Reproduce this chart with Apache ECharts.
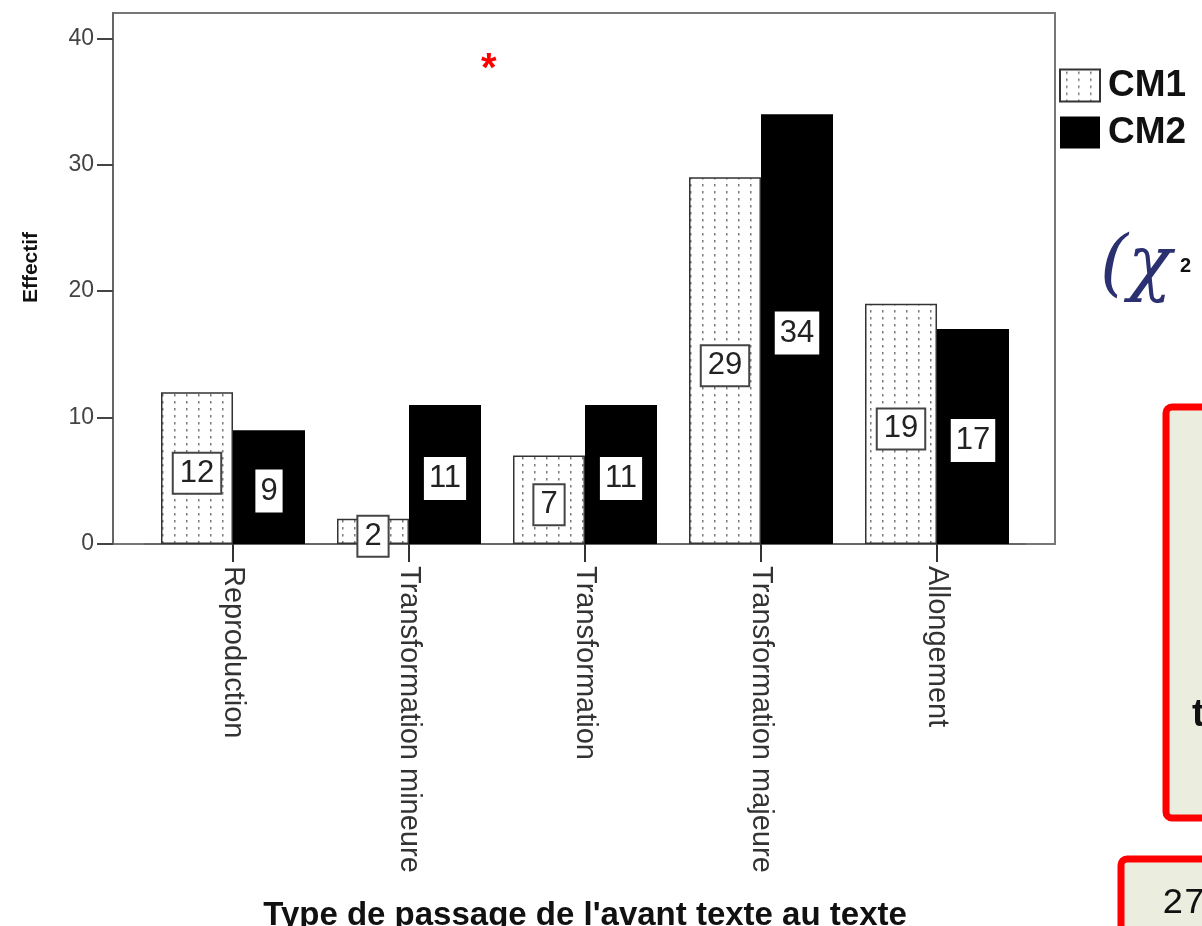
<!DOCTYPE html>
<html>
<head>
<meta charset="utf-8">
<script src="https://cdn.jsdelivr.net/npm/echarts@6/dist/echarts.min.js"></script>
<style>
  html, body { margin: 0; padding: 0; background: #fff; }
  #chart { width: 1202px; height: 926px; }
</style>
</head>
<body>
<div id="chart"></div>
<script>
const categories = ['Reproduction', 'Transformation mineure', 'Transformation', 'Transformation majeure', 'Allongement'];
const cm1Values = [12, 2, 7, 29, 19];
const cm2Values = [9, 11, 11, 34, 17];
const yTicks = [0, 10, 20, 30, 40];
const seriesNames = ['CM1', 'CM2'];

// motif pointillé des barres CM1
const makeDots = () => {
  const c = document.createElement('canvas');
  c.width = 12;
  c.height = 7;
  const ctx = c.getContext('2d');
  ctx.fillStyle = '#fff';
  ctx.fillRect(0, 0, 12, 7);
  ctx.fillStyle = '#7a7a7a';
  ctx.fillRect(6, 2, 1.5, 2.5);
  return c;
};
const dotPattern = { image: makeDots(), repeat: 'repeat' };

const fontMain = '"Liberation Sans", Arial, sans-serif';

const myChart = echarts.init(document.getElementById('chart'));
myChart.setOption({
  animation: false,
  grid: [
    // cadre
    { left: 113, right: 147, top: 13, bottom: 382, show: true, borderColor: '#777', borderWidth: 2, backgroundColor: 'transparent', outerBoundsMode: 'none' },
    // zone des barres
    { left: 145, right: 177, top: 13, bottom: 382, outerBoundsMode: 'none' }
  ],
  legend: {
    data: seriesNames,
    orient: 'vertical',
    left: 1054,
    top: 62,
    itemWidth: 40,
    itemHeight: 32,
    itemGap: 10,
    icon: 'rect',
    textStyle: { fontSize: 37, fontWeight: 'bold', color: '#111', fontFamily: fontMain, padding: [0, 0, 0, 3] }
  },
  xAxis: [
    { gridIndex: 0, type: 'value', show: false, min: 0, max: 1 },
    {
      gridIndex: 1,
      type: 'category',
      data: categories,
      name: "Type de passage de l'avant texte au texte",
      nameLocation: 'middle',
      nameGap: 355,
      nameTextStyle: { fontSize: 33, fontWeight: 'bold', color: '#111', fontFamily: fontMain },
      axisLine: { show: true, lineStyle: { color: '#666', width: 2 } },
      axisTick: { show: true, alignWithLabel: true, length: 18, lineStyle: { color: '#333', width: 2 } },
      axisLabel: { rotate: -90, fontSize: 29, color: '#333', margin: 22, fontFamily: fontMain, interval: 0 },
      splitLine: { show: false }
    }
  ],
  yAxis: [
    { gridIndex: 0, type: 'value', show: false, min: 0, max: 1 },
    {
      gridIndex: 1,
      type: 'value',
      min: 0,
      max: 42,
      offset: 32,
      name: 'Effectif',
      nameLocation: 'middle',
      nameGap: 71,
      nameTextStyle: { fontSize: 21, fontWeight: 'bold', color: '#111', fontFamily: fontMain, padding: [0, 0, 0, 22] },
      axisLine: { show: true, lineStyle: { color: '#666', width: 2 } },
      axisTick: { show: true, length: 16, customValues: yTicks, lineStyle: { color: '#444', width: 2 } },
      axisLabel: { fontSize: 23, color: '#444', margin: 19, customValues: yTicks, fontFamily: fontMain },
      splitLine: { show: false }
    }
  ],
  series: [
    {
      name: seriesNames[0],
      type: 'bar',
      xAxisIndex: 1,
      yAxisIndex: 1,
      data: cm1Values,
      barWidth: 72,
      barGap: '0%',
      itemStyle: { color: dotPattern, borderColor: '#333', borderWidth: 1.5 },
      label: {
        show: true,
        position: 'inside',
        offset: [0, 5],
        fontSize: 31,
        color: '#222',
        fontFamily: fontMain,
        backgroundColor: '#fff',
        borderColor: '#444',
        borderWidth: 2,
        padding: [4, 6]
      }
    },
    {
      name: seriesNames[1],
      type: 'bar',
      xAxisIndex: 1,
      yAxisIndex: 1,
      data: cm2Values,
      barWidth: 72,
      barGap: '0%',
      itemStyle: { color: '#000' },
      label: {
        show: true,
        position: 'inside',
        offset: [0, 4],
        fontSize: 31,
        color: '#222',
        fontFamily: fontMain,
        backgroundColor: '#fff',
        padding: [6, 5]
      }
    }
  ],
  graphic: [
    { type: 'text', left: 481, top: 50, style: { text: '*', fill: '#ff0000', font: 'bold 40px "Liberation Sans"' } },
    { type: 'text', left: 1100, top: 232, style: { text: '(\u03c7', fill: '#2a3070', font: 'italic 72px "DejaVu Serif", serif' } },
    { type: 'text', left: 1180, top: 256, style: { text: '2', fill: '#111', font: 'bold 20px "Liberation Sans"' } },
    { type: 'rect', shape: { x: 1166, y: 407, width: 80, height: 411, r: 6 }, style: { fill: '#ebeedf', stroke: '#ff0000', lineWidth: 7 } },
    { type: 'text', left: 1192, top: 697, style: { text: 't', fill: '#111', font: 'bold 38px "Liberation Sans"' } },
    { type: 'rect', shape: { x: 1121, y: 859, width: 120, height: 100, r: 6 }, style: { fill: '#ebeedf', stroke: '#ff0000', lineWidth: 7 } },
    { type: 'text', left: 1162, top: 885, style: { text: '27', fill: '#111', font: '36px "Liberation Mono", monospace' } }
  ]
});
window.onresize = function () {
  myChart.resize();
};
</script>
</body>
</html>
